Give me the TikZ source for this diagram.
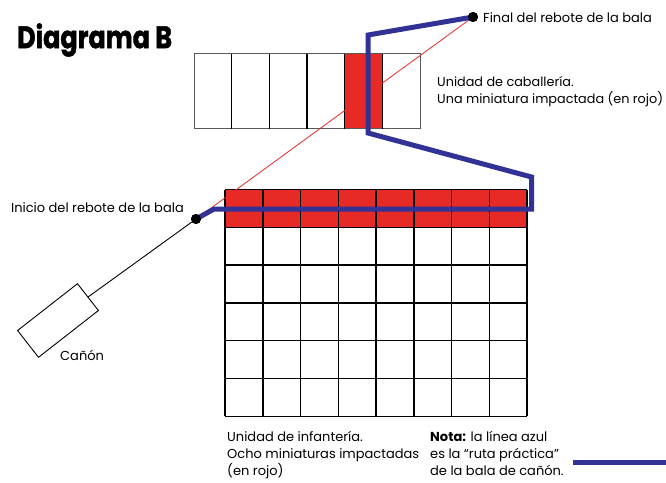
\documentclass[tikz,border=0pt]{standalone}
\usepackage{fontspec}
\setmainfont{Poppins}
\newfontfamily\titlefont[BoldFeatures={FakeBold=1.6}]{Poppins}
\definecolor{hitred}{RGB}{232,42,38}
\definecolor{pathblue}{RGB}{50,50,150}
\begin{document}
\begin{tikzpicture}[x=1pt,y=-1pt,
  lbl/.style={inner sep=0pt,font=\fontsize{13}{17}\selectfont,align=left},
  dotnode/.style={circle,fill=black,inner sep=0pt,minimum size=10pt},
  gridline/.style={line width=1.5pt,black},
  bluepath/.style={pathblue,line width=5pt,miter limit=10},
  shot/.style={hitred,line width=0.8pt},
  aim/.style={black,line width=0.9pt}]
\useasboundingbox (0,0) rectangle (666,482);
\fill[white] (0,0) rectangle (666,482);
% title
\node[inner sep=0pt,anchor=west,xscale=0.82,font=\titlefont\fontsize{31}{31}\selectfont\bfseries] (title) at (17,40) {Diagrama B};
% cavalry unit
\def\cw{37.67}
\fill[hitred] (345,53.5) rectangle (382.7,128.5);
\draw[gray!70!black,line width=0.8pt] (194,53.5) rectangle (420,128.5);
\foreach \i in {1,...,5} {\draw[gridline] (194+\i*\cw,53.5) -- (194+\i*\cw,128.5);}
% infantry unit
\fill[hitred] (225,189.5) rectangle (527,227.3);
\foreach \i in {0,...,8} {\draw[gridline] (225+\i*37.75,189.5) -- (225+\i*37.75,416.3);}
\foreach \j in {0,...,6} {\draw[gridline] (225,189.5+\j*37.8) -- (527,189.5+\j*37.8);}
% dots
\node[dotnode] (start) at (196,219) {};
\node[dotnode] (final) at (473,17) {};
% cannon
\node[draw,line width=0.9pt,minimum width=76pt,minimum height=34pt,rotate=38,inner sep=0pt] (cannon) at (58,320.5) {};
\draw[aim] (cannon.east) -- (start);
\draw[shot] (start) -- (final);
% blue path
\coordinate (b1) at (214,209);
\coordinate (b2) at (531.5,209);
\coordinate (b3) at (531.5,177);
\coordinate (b4) at (368,133);
\coordinate (b5) at (368,35);
\draw[bluepath] (start.center) -- (b1) -- (b2) -- (b3) -- (b4) -- (b5) -- (final.center);
\node[dotnode] at (start) {};
\node[dotnode] at (final) {};
% labels
\node[lbl,anchor=east] (lstart) at (184,208) {Inicio del rebote de la bala};
\node[lbl,anchor=west] (lfinal) at (483,18) {Final del rebote de la bala};
\node[lbl,anchor=west] (lcannon) at (60,355) {Cañón};
\node[lbl,anchor=west,font=\fontsize{12.8}{17}\selectfont] (lcav) at (437,91.5) {Unidad de caballería.\\Una miniatura impactada (en rojo)};
\node[lbl,anchor=north west] (linf) at (227,431) {Unidad de infantería.\\Ocho miniaturas impactadas\\(en rojo)};
\node[lbl,anchor=north west] (lnote) at (430,431) {\textbf{Nota:} la línea azul\\es la “ruta práctica”\\de la bala de cañón.};
\coordinate (k1) at (573,462);
\coordinate (k2) at (666,462);
\draw[bluepath] (k1) -- (k2);
\end{tikzpicture}
\end{document}
